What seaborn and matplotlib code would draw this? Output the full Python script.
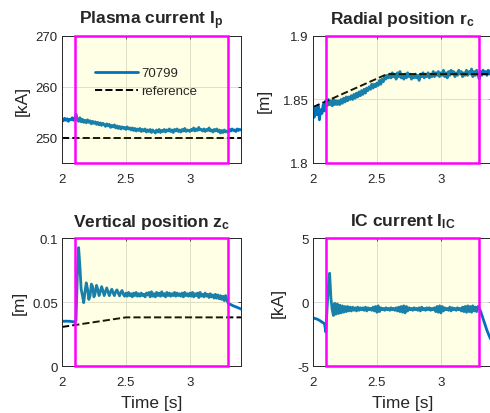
import numpy as np
import pandas as pd
import matplotlib
matplotlib.use("Agg")
import matplotlib.pyplot as plt
import seaborn as sns

# time base of the measured signals [s]
time = np.round(np.arange(2.00, 3.405, 0.01), 2)

# plasma current, shot 70799 [kA]
ip_meas = [253.6, 253.3, 253.8, 253.4, 253.7, 253.2, 253.6, 253.5, 253.9, 253.4,
           253.8, 254.6, 253.5, 253.2, 253.9, 253.1, 253.6, 253.0, 253.4, 252.9,
           253.5, 253.0, 253.3, 252.7, 253.2, 252.8, 253.1, 252.6, 253.0, 252.5,
           252.9, 252.4, 252.8, 252.6, 252.2, 252.7, 252.3, 252.6, 252.0, 252.4,
           252.1, 252.5, 251.9, 252.3, 251.8, 252.2, 251.7, 252.1, 251.8, 252.0,
           251.6, 252.1, 251.7, 251.9, 251.5, 251.9, 251.4, 251.8, 251.3, 251.7,
           251.4, 251.8, 251.2, 251.6, 251.3, 251.7, 251.1, 251.5, 251.2, 251.6,
           251.0, 251.5, 251.2, 250.9, 251.5, 251.1, 251.6, 251.0, 251.4, 251.2,
           251.6, 251.1, 251.5, 251.3, 251.7, 251.2, 251.5, 251.0, 251.6, 251.3,
           251.7, 251.2, 251.5, 251.1, 251.6, 251.3, 251.8, 251.2, 251.5, 251.4,
           251.2, 251.6, 251.4, 251.9, 251.3, 251.7, 251.4, 252.0, 251.5, 251.6,
           251.3, 251.7, 251.2, 251.6, 251.4, 251.9, 251.3, 251.5, 251.1, 251.6,
           251.3, 251.7, 251.2, 251.5, 250.9, 251.4, 251.0, 251.5, 251.1, 251.3,
           251.0, 251.6, 251.3, 251.7, 251.4, 251.5, 251.2, 251.7, 251.4, 251.6, 251.5]
ip_ref_t = [2.0, 3.4]
ip_ref = [250.0, 250.0]

# radial position [m]
r_meas = [1.840, 1.836, 1.843, 1.838, 1.845, 1.834, 1.842, 1.839, 1.846, 1.841,
          1.849, 1.845, 1.850, 1.846, 1.849, 1.845, 1.850, 1.846, 1.849, 1.846,
          1.849, 1.846, 1.850, 1.847, 1.851, 1.848, 1.852, 1.849, 1.852, 1.850,
          1.853, 1.850, 1.854, 1.851, 1.855, 1.852, 1.856, 1.853, 1.857, 1.854,
          1.858, 1.855, 1.859, 1.857, 1.860, 1.858, 1.862, 1.859, 1.862, 1.860,
          1.863, 1.861, 1.865, 1.862, 1.866, 1.864, 1.868, 1.866, 1.869, 1.867,
          1.870, 1.867, 1.871, 1.868, 1.870, 1.866, 1.871, 1.868, 1.872, 1.867,
          1.869, 1.866, 1.870, 1.867, 1.871, 1.868, 1.870, 1.866, 1.869, 1.867,
          1.870, 1.867, 1.869, 1.865, 1.870, 1.868, 1.871, 1.867, 1.870, 1.868,
          1.871, 1.867, 1.870, 1.868, 1.872, 1.868, 1.871, 1.869, 1.872, 1.868,
          1.871, 1.869, 1.873, 1.868, 1.871, 1.867, 1.872, 1.869, 1.873, 1.870,
          1.872, 1.868, 1.871, 1.869, 1.873, 1.870, 1.872, 1.868, 1.871, 1.869,
          1.873, 1.869, 1.872, 1.870, 1.874, 1.868, 1.872, 1.869, 1.873, 1.870,
          1.866, 1.872, 1.869, 1.873, 1.870, 1.872, 1.869, 1.873, 1.870, 1.872, 1.871]
r_ref_t = [2.0, 2.58, 3.4]
r_ref = [1.844, 1.870, 1.870]

# vertical position [m]
z_meas = [0.0348, 0.0350, 0.0349, 0.0351, 0.0350, 0.0349, 0.0350, 0.0348, 0.0347, 0.0346,
          0.0340, 0.0360, 0.0700, 0.0925, 0.0780, 0.0600, 0.0550, 0.0495, 0.0580, 0.0650,
          0.0600, 0.0520, 0.0550, 0.0640, 0.0620, 0.0540, 0.0570, 0.0630, 0.0600, 0.0550,
          0.0580, 0.0620, 0.0590, 0.0550, 0.0580, 0.0610, 0.0580, 0.0550, 0.0580, 0.0600,
          0.0570, 0.0550, 0.0580, 0.0595, 0.0570, 0.0548, 0.0575, 0.0590, 0.0560, 0.0545,
          0.0570, 0.0545, 0.0575, 0.0550, 0.0565, 0.0540, 0.0570, 0.0550, 0.0575, 0.0545,
          0.0565, 0.0545, 0.0570, 0.0550, 0.0560, 0.0540, 0.0570, 0.0555, 0.0575, 0.0540,
          0.0580, 0.0545, 0.0565, 0.0540, 0.0575, 0.0550, 0.0570, 0.0545, 0.0580, 0.0550,
          0.0565, 0.0540, 0.0575, 0.0550, 0.0570, 0.0545, 0.0565, 0.0550, 0.0575, 0.0545,
          0.0570, 0.0550, 0.0565, 0.0545, 0.0570, 0.0540, 0.0575, 0.0550, 0.0565, 0.0545,
          0.0570, 0.0545, 0.0575, 0.0540, 0.0565, 0.0550, 0.0570, 0.0535, 0.0575, 0.0545,
          0.0560, 0.0540, 0.0570, 0.0545, 0.0560, 0.0535, 0.0565, 0.0540, 0.0555, 0.0530,
          0.0560, 0.0530, 0.0555, 0.0525, 0.0550, 0.0520, 0.0545, 0.0510, 0.0550, 0.0515,
          0.0490, 0.0484, 0.0480, 0.0475, 0.0470, 0.0466, 0.0462, 0.0458, 0.0454, 0.0450, 0.0445]
z_ref_t = [2.0, 2.5, 3.4]
z_ref = [0.0305, 0.038, 0.038]

# IC coil current [kA]
ic_meas = [-1.25, -1.27, -1.30, -1.33, -1.38, -1.43, -1.50, -1.57, -1.64, -1.70,
           -2.35, -0.60, 1.20, 2.25, 0.30, -0.60, -1.05, -0.10, -0.95, -0.15,
           -0.90, -0.25, -0.85, -0.30, -0.80, -0.35, -0.75, -0.35, -0.70, -0.40,
           -0.70, -0.40, -0.65, -0.45, -0.70, -0.40, -0.65, -0.45, -0.60, -0.45,
           -0.65, -0.40, -0.70, -0.45, -0.60, -0.50, -0.65, -0.40, -0.70, -0.35,
           -0.80, -0.30, -0.75, -0.45, -0.60, -0.50, -0.65, -0.45, -0.60, -0.50,
           -0.65, -0.45, -0.60, -0.50, -0.65, -0.45, -0.70, -0.40, -0.75, -0.35,
           -0.80, -0.30, -0.85, -0.35, -0.70, -0.45, -0.60, -0.50, -0.65, -0.45,
           -0.60, -0.50, -0.65, -0.45, -0.70, -0.40, -0.60, -0.50, -0.65, -0.45,
           -0.60, -0.45, -0.65, -0.50, -0.60, -0.45, -0.75, -0.35, -0.80, -0.30,
           -0.85, -0.35, -0.70, -0.45, -0.60, -0.50, -0.65, -0.40, -0.70, -0.45,
           -0.60, -0.50, -0.65, -0.45, -0.60, -0.50, -0.70, -0.40, -0.75, -0.35,
           -0.80, -0.30, -0.75, -0.35, -0.80, -0.30, -0.70, -0.40, -0.75, -0.35,
           -0.50, -0.70, -1.00, -1.30, -1.60, -1.90, -2.20, -2.45, -2.70, -2.90, -3.10]

# feedback window
win_start, win_end = 2.1, 3.3

titles = [r"Plasma current I$_{\mathbf{p}}$", r"Radial position r$_{\mathbf{c}}$",
          r"Vertical position z$_{\mathbf{c}}$", r"IC current I$_{\mathbf{IC}}$"]
ylabels = ["[kA]", "[m]", "[m]", "[kA]"]
ylims = [(245, 270), (1.8, 1.9), (0, 0.1), (-5, 5)]
yticks = [[250, 260, 270], [1.8, 1.85, 1.9], [0, 0.05, 0.1], [-5, 0, 5]]
ytick_labels = [["250", "260", "270"], ["1.8", "1.85", "1.9"], ["0", "0.05", "0.1"], ["-5", "0", "5"]]

sns.set_style("white")
plt.rcParams["font.family"] = ["Liberation Sans", "DejaVu Sans"]
plt.rcParams["mathtext.fontset"] = "custom"
plt.rcParams["mathtext.bf"] = "Liberation Sans:bold"
plt.rcParams["mathtext.rm"] = "Liberation Sans:bold"
plt.rcParams["mathtext.it"] = "Liberation Sans:bold"

fig = plt.figure(figsize=(4.9, 4.14), dpi=100)
positions = [[0.1265, 0.6039, 0.3653, 0.3068], [0.6388, 0.6039, 0.3653, 0.3068],
             [0.1265, 0.1135, 0.3653, 0.3092], [0.6388, 0.1135, 0.3653, 0.3092]]

meas_all = [ip_meas, r_meas, z_meas, ic_meas]
refs = [(ip_ref_t, ip_ref), (r_ref_t, r_ref), (z_ref_t, z_ref), None]

blue = "#0072BD"
for i in range(4):
    ax = fig.add_axes(positions[i])
    df = pd.DataFrame({"t": time, "v": meas_all[i]})
    sns.lineplot(data=df, x="t", y="v", ax=ax, color=blue, lw=2.0,
                 label="70799" if i == 0 else None, zorder=2)
    if refs[i] is not None:
        rdf = pd.DataFrame({"t": refs[i][0], "v": refs[i][1]})
        sns.lineplot(data=rdf, x="t", y="v", ax=ax, color="black", lw=1.4,
                     linestyle="--", label="reference" if i == 0 else None, zorder=2)

    # window shading + magenta frame
    ax.axvspan(win_start, win_end, facecolor=(1, 1, 0), alpha=0.1, lw=0, zorder=3)
    ax.axvspan(win_start, win_end, fill=False, edgecolor="#FF00FF", lw=1.8,
               zorder=4, clip_on=False)

    ax.set_xlim(2, 3.4)
    ax.set_ylim(*ylims[i])
    ax.set_xticks([2, 2.5, 3])
    ax.set_xticklabels(["2", "2.5", "3"])
    ax.set_yticks(yticks[i])
    ax.set_yticklabels(ytick_labels[i])
    ax.grid(True, color="#dcdcdc", lw=0.7)
    ax.set_axisbelow(True)
    for s in ax.spines.values():
        s.set_color("#262626")
        s.set_linewidth(0.7)
    ax.tick_params(axis="both", direction="in", length=2.5, width=0.6,
                   top=True, right=True, labelsize=9.5, colors="#262626")
    ax.tick_params(axis="x", pad=7)
    ax.tick_params(axis="y", pad=3)
    ax.set_title(titles[i], fontsize=12.5, fontweight="bold", pad=9)
    ax.set_ylabel(ylabels[i], fontsize=12.5, color="#262626",
                  labelpad=4 if i % 2 == 0 else 8)
    if i >= 2:
        ax.set_xlabel("Time [s]", fontsize=12.5, color="#262626", labelpad=5)
    else:
        ax.set_xlabel("")

    if i == 0:
        ax.legend(frameon=False, loc="upper left", bbox_to_anchor=(0.12, 0.85),
                  fontsize=9.5, handlelength=3.2, handletextpad=0.3,
                  labelspacing=0.45)
    else:
        leg = ax.get_legend()
        if leg is not None:
            leg.remove()

fig.savefig("out.png", dpi=100)
